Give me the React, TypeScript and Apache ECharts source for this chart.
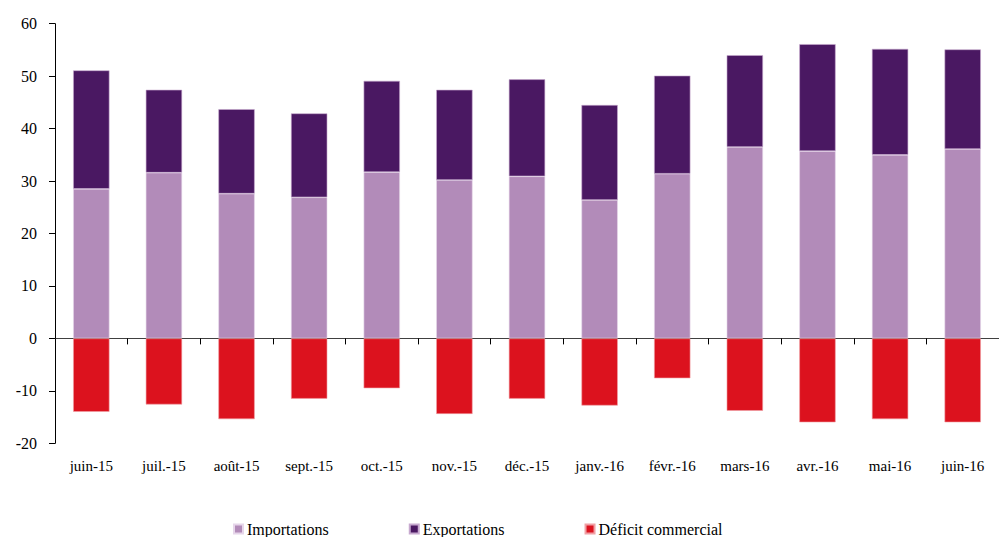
import React, { useEffect, useRef } from "react";
import * as echarts from "echarts";

const categories = [
  "juin-15", "juil.-15", "août-15", "sept.-15", "oct.-15", "nov.-15", "déc.-15",
  "janv.-16", "févr.-16", "mars-16", "avr.-16", "mai-16", "juin-16",
];
const importations = [28.5, 31.6, 27.6, 26.9, 31.7, 30.2, 30.9, 26.4, 31.4, 36.5, 35.7, 35.0, 36.1];
const exportations = [22.6, 15.8, 16.1, 16.0, 17.4, 17.2, 18.5, 18.1, 18.7, 17.5, 20.4, 20.2, 19.0];
const deficit = [-14.0, -12.6, -15.4, -11.5, -9.5, -14.4, -11.5, -12.8, -7.6, -13.8, -16.0, -15.4, -16.0];

const FONT = "Liberation Serif";

export default function App() {
  const ref = useRef<HTMLDivElement>(null);
  useEffect(() => {
    if (!ref.current) return;
    const chart = echarts.init(ref.current, null, { renderer: "svg" });
    chart.setOption({
      animation: false,
      grid: { left: 55, right: -10, top: 23.7, bottom: 93.7 },
      legend: {
        left: 228,
        top: 516,
        itemWidth: 9,
        itemHeight: 9,
        itemGap: 80,
        icon: "rect",
        textStyle: { fontFamily: FONT, fontSize: 16, color: "#000", padding: [0, 0, 0, -1] },
        data: ["Importations", "Exportations", "Déficit commercial"],
      },
      xAxis: [
        {
          type: "category",
          data: categories,
          position: "bottom",
          axisLine: { show: false, onZero: false },
          axisTick: { show: false },
          axisLabel: { color: "#000", fontSize: 15, fontFamily: FONT, margin: 15 },
        },
        {
          type: "category",
          data: categories,
          position: "top",
          axisLine: { show: true, onZero: true, lineStyle: { color: "#404040", width: 1 } },
          axisTick: { show: true, inside: true, length: 6, lineStyle: { color: "#000" } },
          axisLabel: { show: false },
        },
      ],
      yAxis: {
        type: "value",
        min: -20,
        max: 60,
        interval: 10,
        splitLine: { show: false },
        axisLine: { show: true, lineStyle: { color: "#000", width: 1 } },
        axisTick: { show: true, length: 6, lineStyle: { color: "#000" } },
        axisLabel: { color: "#000", fontSize: 16, fontFamily: FONT, margin: 18 },
      },
      series: [
        {
          name: "Importations",
          type: "bar",
          stack: "a",
          barWidth: "50%",
          data: importations,
          itemStyle: { color: "#B28BB9", borderColor: "#E6D6EA", borderWidth: 0.6 },
        },
        {
          name: "Exportations",
          type: "bar",
          stack: "a",
          barWidth: "50%",
          data: exportations,
          itemStyle: { color: "#4A1862", borderColor: "#C7A9CF", borderWidth: 0.6 },
        },
        {
          name: "Déficit commercial",
          type: "bar",
          stack: "a",
          barWidth: "50%",
          data: deficit,
          itemStyle: { color: "#DC121E", borderColor: "#F0A0A5", borderWidth: 0.6 },
        },
      ],
    });
    return () => chart.dispose();
  }, []);
  return (
    <>
      <style>{"svg text { font-family: 'Liberation Serif', serif !important; }"}</style>
      <div
        ref={ref}
        style={{ position: "fixed", left: 0, top: 0, width: 999, height: 537, background: "#fff" }}
      />
    </>
  );
}
